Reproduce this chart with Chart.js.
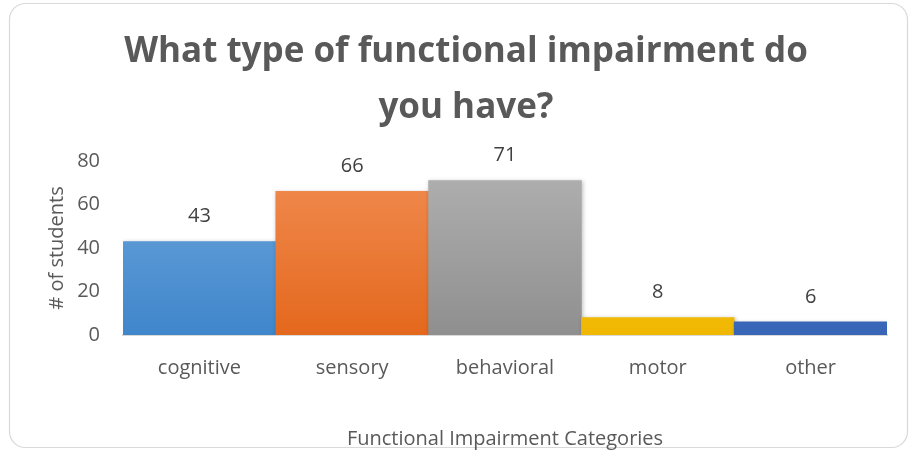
<!DOCTYPE html>
<html>
<head>
    <meta charset="utf-8">
    <title>Functional impairment</title>
    <script src="https://cdn.jsdelivr.net/npm/chart.js"></script>
    <style>
      html, body { margin: 0; padding: 0; background: #fff; }
      #wrap { width: 916px; height: 451px; }
    </style>
</head>
<body>
<div id="wrap"><canvas id="impChart" width="916" height="451"></canvas></div>

<script>
    const categories = ['cognitive', 'sensory', 'behavioral', 'motor', 'other'];
    const students = [43, 66, 71, 8, 6];
    // top / bottom colours of each bar's gradient
    const topColors = ['#70a7dd', '#f18d53', '#b1b1b1', '#ffcb33', '#4a79cc'];
    const bottomColors = ['#3f86cb', '#e4681d', '#8f8f8f', '#efb700', '#3865b6'];
    const yTicks = [0, 20, 40, 60, 80];

    const TEXT = '#595959';
    const FONT = "'Open Sans', sans-serif";

    // rounded frame like the spreadsheet chart
    const framePlugin = {
      id: 'frame',
      beforeDraw(chart) {
        const c = chart.ctx;
        c.save();
        c.fillStyle = '#fff';
        c.fillRect(0, 0, chart.width, chart.height);
        c.strokeStyle = '#d9d9d9';
        c.lineWidth = 1.2;
        c.beginPath();
        c.roundRect(9.5, 3.5, 898, 444, 16);
        c.stroke();
        c.restore();
      }
    };

    // value labels above bars
    const valueLabels = {
      id: 'valueLabels',
      afterDatasetsDraw(chart) {
        const c = chart.ctx;
        const meta = chart.getDatasetMeta(0);
        c.save();
        c.font = "20px " + FONT;
        c.fillStyle = '#404040';
        c.textAlign = 'center';
        c.textBaseline = 'middle';
        meta.data.forEach((bar, i) => {
          c.fillText(String(students[i]), bar.x, bar.y - 25);
        });
        c.restore();
      }
    };

    // soft shadow behind the bars
    const barShadow = {
      id: 'barShadow',
      beforeDatasetsDraw(chart) {
        chart.ctx.save();
        chart.ctx.shadowColor = 'rgba(0,0,0,0.25)';
        chart.ctx.shadowBlur = 4;
        chart.ctx.shadowOffsetX = 1;
        chart.ctx.shadowOffsetY = 1;
      },
      afterDatasetsDraw(chart) {
        chart.ctx.restore();
      }
    };

    function barGradient(context) {
      const chart = context.chart;
      const area = chart.chartArea;
      if (!area) return topColors[context.dataIndex];
      const g = chart.ctx.createLinearGradient(0, area.top, 0, area.bottom);
      const i = context.dataIndex;
      g.addColorStop(0, topColors[i]);
      g.addColorStop(1, bottomColors[i]);
      return g;
    }

    const ctx = document.getElementById('impChart').getContext('2d');
    const chart = new Chart(ctx, {
      type: 'bar',
      data: {
        labels: categories,
        datasets: [{
          label: '# of students',
          data: students,
          backgroundColor: barGradient,
          borderWidth: 0,
          categoryPercentage: 1.0,
          barPercentage: 1.0
        }]
      },
      options: {
        responsive: false,
        animation: false,
        events: [],
        layout: { padding: { left: 45, right: 29, top: 0, bottom: 0 } },
        plugins: {
          legend: { display: false },
          tooltip: { enabled: false },
          title: {
            display: true,
            text: ['What type of functional impairment do', 'you have?'],
            color: TEXT,
            font: { family: FONT, size: 35, weight: 'bold', lineHeight: 1.6 },
            padding: { top: 24, bottom: 25 }
          }
        },
        scales: {
          x: {
            grid: { display: false, drawTicks: false },
            border: { display: true, color: '#d9d9d9', width: 2 },
            ticks: { color: TEXT, font: { family: FONT, size: 20 }, padding: 21 },
            title: {
              display: true,
              text: 'Functional Impairment Categories',
              color: TEXT,
              font: { family: FONT, size: 20 },
              padding: { top: 26, bottom: 0 }
            }
          },
          y: {
            min: 0,
            max: 80,
            afterBuildTicks(axis) { axis.ticks = yTicks.map(v => ({ value: v })); },
            afterFit(axis) { axis.width = 78; },
            grid: { display: false, drawTicks: false },
            border: { display: false },
            ticks: { color: TEXT, font: { family: FONT, size: 20 }, padding: 23 },
            title: {
              display: true,
              text: '# of students',
              color: TEXT,
              font: { family: FONT, size: 20 },
              padding: { top: 0, bottom: 8 }
            }
          }
        }
      },
      plugins: [framePlugin, barShadow, valueLabels]
    });
</script>
</body>
</html>
